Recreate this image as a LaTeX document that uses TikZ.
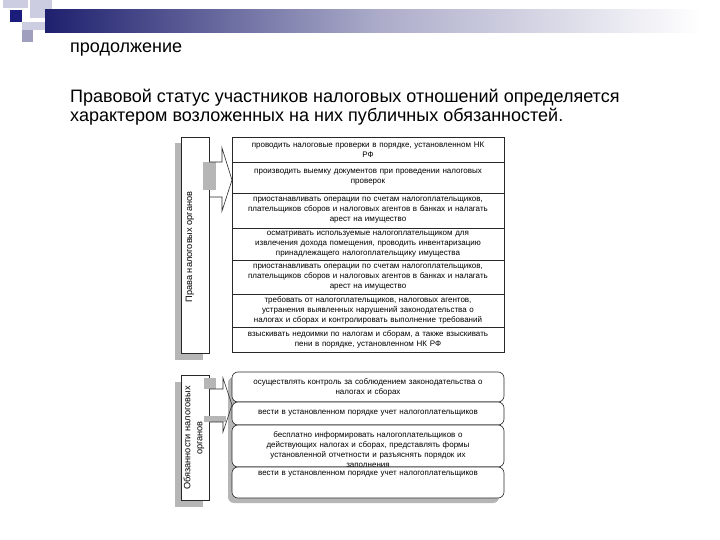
\documentclass[tikz,border=0pt]{standalone}
\usepackage{fontspec}
\setmainfont{Liberation Sans}
\definecolor{hdrnavy}{RGB}{30,32,110}
\definecolor{hdrmid}{RGB}{172,172,202}
\definecolor{sqlight}{RGB}{205,205,225}
\definecolor{sqgrey}{RGB}{160,160,190}
\definecolor{shadowgrey}{RGB}{182,182,182}
\definecolor{linegrey}{RGB}{40,40,40}
\newcommand\boxfont{\fontsize{8}{10}\selectfont}
\newcommand\sidefont{\fontsize{9.2}{12}\selectfont}
\tikzset{
  rbox/.style={draw=linegrey, line width=0.6pt, fill=white, text width=270pt,
    inner xsep=1pt, inner ysep=0pt, align=center, font=\boxfont},
  rrbox/.style={rbox, rounded corners=6pt},
  txt/.style={text width=270pt, inner sep=0pt, align=center, font=\boxfont},
  lbox/.style={draw=linegrey, line width=0.6pt, fill=white, minimum width=28pt, inner sep=0pt},
  conn/.style={draw=linegrey, line width=0.6pt},
}
\begin{document}
\begin{tikzpicture}[x=1pt,y=-1pt]
\useasboundingbox (0,0) rectangle (720,540);
% header decoration
\fill[sqlight] (3,0) rectangle (28,8);
\fill[sqlight] (30,0) rectangle (52,18);
\fill[sqlight] (22,22) rectangle (45,30);
\fill[sqgrey] (22,30) rectangle (33,42);
\shade[left color=hdrnavy, right color=hdrmid] (45,10) rectangle (380,33);
\shade[left color=hdrmid, right color=white] (380,10) rectangle (700,33);
\fill[hdrnavy!90!blue] (10,10) rectangle (22,22);
% titles
\node[anchor=base west, inner sep=0pt, font=\fontsize{18}{21}\selectfont] (title) at (70,53) {продолжение};
\node[anchor=base west, inner sep=0pt, align=left, font=\fontsize{18}{19}\selectfont] (lead) at (70,122)
  {Правовой статус участников налоговых отношений определяется\\характером возложенных на них публичных обязанностей.};

% ---------- top section ----------
\fill[shadowgrey] (175,143) rectangle (203,360);
\node[lbox, minimum height=216pt] (L1) at (195,245) {};
\node[rotate=90, inner sep=0pt, font=\sidefont] (L1t) at (190,247) {Права налоговых органов};

\node[rbox, minimum height=25pt] (t1) at (368,149.5) {проводить налоговые проверки в порядке, установленном НК\\РФ};
\node[rbox, minimum height=31pt] (t2) at (368,177.5) {производить выемку документов при проведении налоговых\\проверок};
\node[rbox, minimum height=35pt] (t3) at (368,210.5) {приостанавливать операции по счетам налогоплательщиков,\\плательщиков сборов и налоговых агентов в банках и налагать\\арест на имущество};
\node[rbox, minimum height=32pt] (t4) at (368,244) {осматривать используемые налогоплательщиком для\\извлечения дохода помещения, проводить инвентаризацию\\принадлежащего налогоплательщику имущества};
\node[rbox, minimum height=34pt] (t5) at (368,277) {приостанавливать операции по счетам налогоплательщиков,\\плательщиков сборов и налоговых агентов в банках и налагать\\арест на имущество};
\node[rbox, minimum height=33pt] (t6) at (368,310.5) {требовать от налогоплательщиков, налоговых агентов,\\устранения выявленных нарушений законодательства о\\налогах и сборах и контролировать выполнение требований};
\node[rbox, minimum height=25pt] (t7) at (368,339.5) {взыскивать недоимки по налогам и сборам, а также взыскивать\\пени в порядке, установленном НК РФ};

% top block arrow
\fill[shadowgrey] (203,162) rectangle (216,190);
\coordinate (a1a) at (222,162);
\coordinate (a1b) at (222,148);
\coordinate (a1tip) at (232,180);
\coordinate (a1c) at (222,211);
\coordinate (a1d) at (222,197);
\draw[conn] (L1.east |- a1a) -- (a1a) -- (a1b) -- (a1tip) -- (a1c) -- (a1d) -- (L1.east |- a1d);

% ---------- bottom section ----------
\fill[shadowgrey] (175,382) rectangle (203,507);
\node[lbox, minimum height=125pt] (L2) at (195,437.5) {};
\node[rotate=90, inner sep=0pt, align=center, font=\sidefont] (L2t) at (194,438)
  {Обязанности налоговых\\органов};

\fill[shadowgrey, rounded corners=6pt] (228,377) rectangle (499,503);
\node[rrbox, minimum height=30pt] (b1) at (368,387) {осуществлять контроль за соблюдением законодательства о\\налогах и сборах};
\node[rrbox, minimum height=23pt] (b2) at (368,413.5) {вести в установленном порядке учет налогоплательщиков};
\node[rrbox, minimum height=42pt] (b3) at (368,446) {};
\node[txt] (b3t) at (368,450) {бесплатно информировать налогоплательщиков о\\действующих налогах и сборах, представлять формы\\установленной отчетности и разъяснять порядок их\\заполнения};
\node[rrbox, minimum height=31pt] (b4) at (368,482.5) {};
\node[txt] (b4t) at (368,474) {вести в установленном порядке учет налогоплательщиков};

% bottom block arrow
\fill[shadowgrey] (204,378) rectangle (216,389);
\fill[shadowgrey] (204,416) rectangle (226,422);
\coordinate (a2a) at (223,389);
\coordinate (a2b) at (223,378);
\coordinate (a2tip) at (232,405);
\coordinate (a2c) at (223,432);
\coordinate (a2d) at (223,422);
\draw[conn] (L2.east |- a2a) -- (a2a) -- (a2b) -- (a2tip) -- (a2c) -- (a2d) -- (L2.east |- a2d);
\end{tikzpicture}
\end{document}
